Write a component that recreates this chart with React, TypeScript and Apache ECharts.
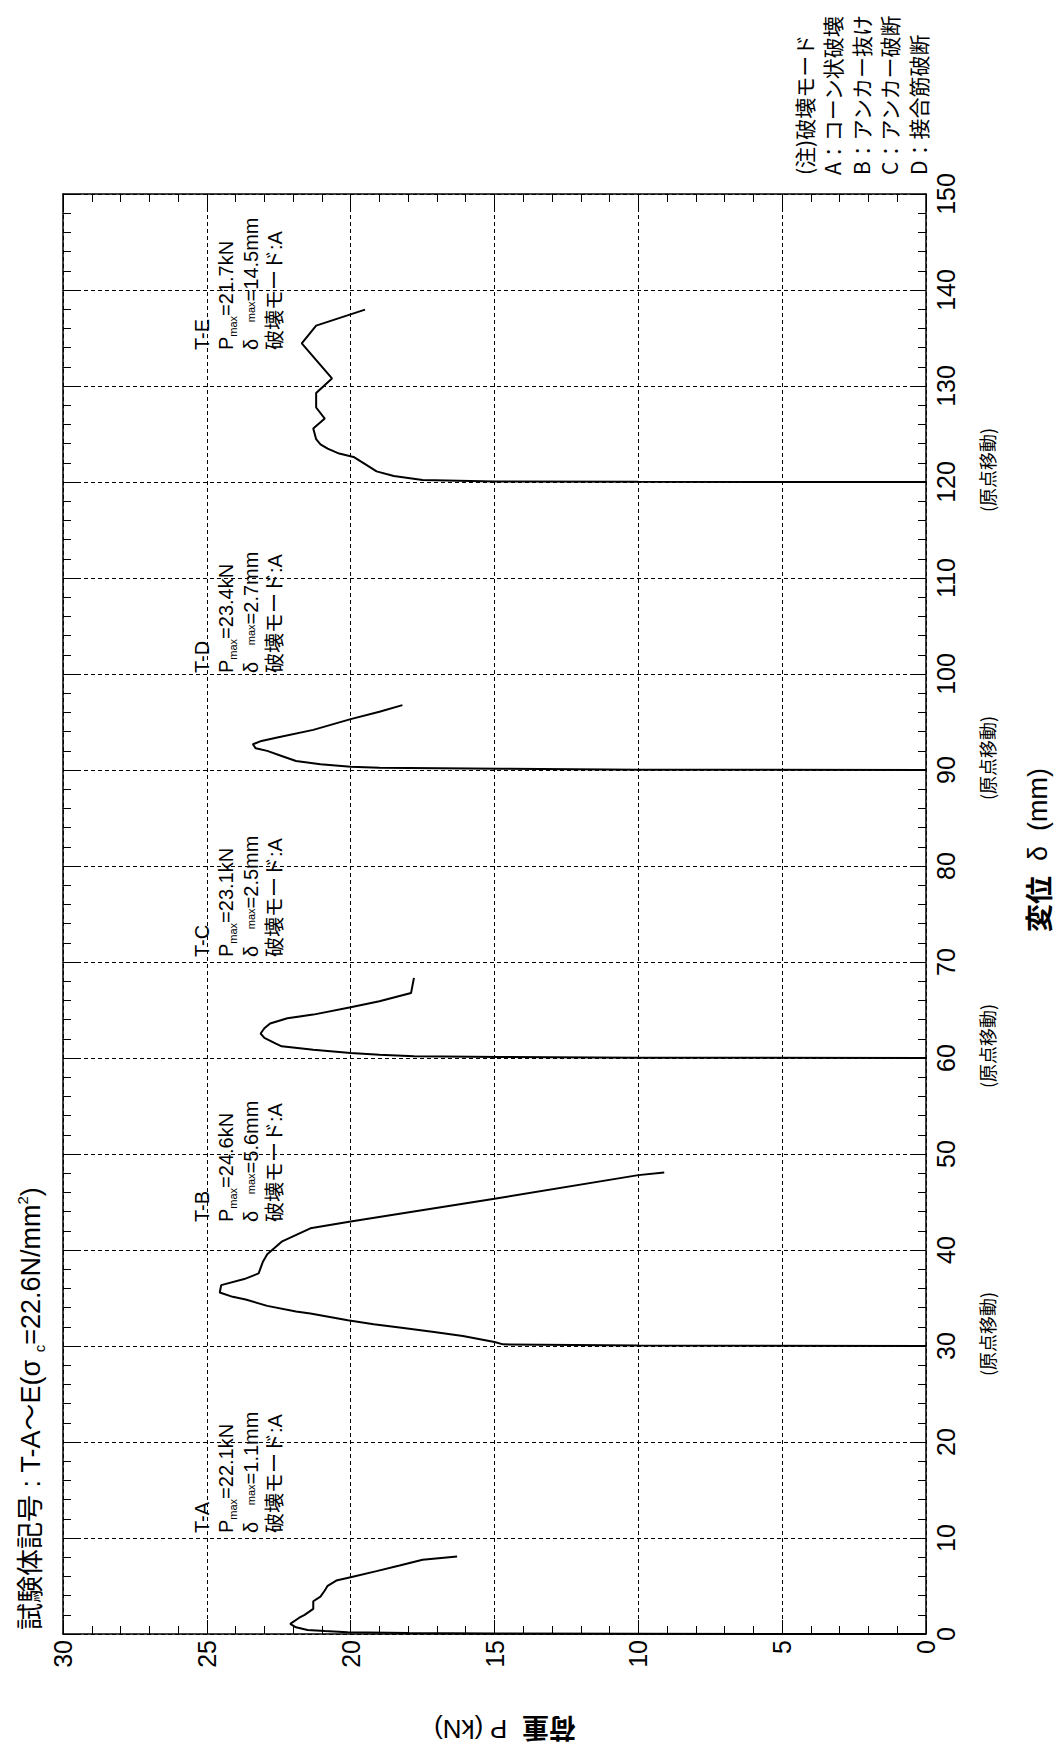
import React, { useEffect, useRef } from "react";
import * as echarts from "echarts";

// ---------------- data ----------------
const specimenNames = ["T-A", "T-B", "T-C", "T-D", "T-E"];
const originShifts = [0, 30, 60, 90, 120]; // 原点移動 (mm)
const pMaxLabels = ["22.1", "24.6", "23.1", "23.4", "21.7"];
const dMaxLabels = ["1.1", "5.6", "2.5", "2.7", "14.5"];
const failureModes = ["A", "A", "A", "A", "A"];

// load P (kN) and displacement δ (mm, relative to each specimen's origin)
const loadTA = [0, 10, 15, 18, 20.1, 20.9, 21.5, 21.9, 22.1, 21.8, 21.6, 21.3, 21.3, 21.05, 20.9, 20.8, 20.5, 20.0, 19.1, 18.3, 17.5, 16.3];
const dispTA = [0, 0.02, 0.05, 0.1, 0.17, 0.31, 0.42, 0.7, 1.05, 1.67, 1.99, 2.61, 3.41, 3.9, 4.53, 5.02, 5.57, 5.92, 6.55, 7.14, 7.74, 8.08];

const loadTB = [0, 10, 14.7, 15.0, 16.1, 17.1, 18.3, 19.2, 20.1, 21.4, 21.9, 22.9, 23.65, 24.1, 24.55, 24.5, 23.7, 23.2, 23.05, 22.9, 22.4, 21.4, 20.0, 15.0, 10.0, 9.1];
const dispTB = [0, 0.05, 0.17, 0.42, 1.05, 1.46, 1.92, 2.26, 2.68, 3.38, 3.59, 4.18, 4.84, 5.12, 5.57, 6.34, 6.97, 7.56, 8.78, 9.55, 10.87, 12.26, 12.96, 15.33, 17.8, 18.08];

const loadTC = [0, 10, 14.8, 17.8, 19.0, 20.0, 21.3, 22.4, 22.6, 23.0, 23.13, 23.0, 22.8, 22.2, 21.3, 20.0, 19.0, 17.9, 17.8];
const dispTC = [0, 0.03, 0.1, 0.17, 0.35, 0.52, 0.87, 1.22, 1.5, 2.1, 2.55, 3.1, 3.6, 4.14, 4.52, 5.29, 5.91, 6.78, 8.35];

const loadTD = [0, 10, 14.8, 19.0, 20.0, 21.05, 21.9, 22.4, 22.9, 23.3, 23.4, 23.1, 22.55, 21.3, 20.0, 19.0, 18.2];
const dispTD = [0, 0.03, 0.14, 0.24, 0.35, 0.59, 0.94, 1.46, 1.99, 2.26, 2.68, 3.03, 3.38, 4.18, 5.3, 6.06, 6.76];

const loadTE = [0, 10, 15, 17.5, 18.5, 19.1, 19.4, 19.9, 20.4, 20.8, 21.05, 21.2, 21.3, 20.9, 21.2, 21.2, 20.65, 21.7, 21.2, 19.5];
const dispTE = [0, 0.02, 0.06, 0.21, 0.63, 1.11, 1.67, 2.61, 2.96, 3.48, 3.93, 4.46, 5.57, 6.61, 7.76, 9.26, 10.79, 14.44, 16.29, 17.96];

const loads = [loadTA, loadTB, loadTC, loadTD, loadTE];
const disps = [dispTA, dispTB, dispTC, dispTD, dispTE];

const loadAxis = { min: 0, max: 30, interval: 5 };
const dispAxis = { min: 0, max: 150, interval: 10 };

const legendLines = ["(注)破壊モード", "A：コーン状破壊", "B：アンカー抜け", "C：アンカー破断", "D：接合筋破断"];
const originShiftText = "(原点移動)";
const loadAxisName = "荷重";
const loadAxisUnit = "  P (kN)";
const dispAxisName = "変位";
const dispAxisUnit = "  δ  (mm)";

// ---------------- layout ----------------
const W = 1063;
const H = 1750;
const GRID = { left: 63, right: 137, top: 194, bottom: 116 };
const FONT = "'Liberation Sans', Arial, 'Noto Sans CJK JP', sans-serif";
const CJK_FONT = "'Noto Sans CJK JP', 'Liberation Sans', sans-serif";
const ANNOT_COLS = [202, 226, 251, 275];
const ANNOT_START_Y = [1533, 1222, 957, 673, 350];
const LEGEND_COLS = [804, 832, 861, 889, 918];
const LEGEND_START_Y = 175;
const ORIGIN_LABEL_X = 987;
const ORIGIN_LABEL_SHIFT = -12;
const TITLE_X = 31;
const TITLE_START_Y = 1630;

function txt(x: number, y: number, text: string, fontSize: number, extra: any = {}) {
  const align = extra.align ?? "left";
  return {
    type: "text",
    x,
    y,
    rotation: extra.rotation ?? Math.PI / 2,
    silent: true,
    z: 10,
    style: {
      text,
      fill: "#000",
      fontSize,
      fontFamily: extra.fontFamily ?? FONT,
      fontWeight: extra.fontWeight ?? "normal",
      align,
      textAlign: align,
      verticalAlign: "middle",
      textVerticalAlign: "middle",
      lineHeight: extra.lineHeight,
      rich: extra.rich,
    },
  };
}

export default function App() {
  const ref = useRef<HTMLDivElement>(null);

  useEffect(() => {
    const el = ref.current;
    if (!el) return;
    const chart = echarts.init(el, null, { renderer: "svg" });

    const axisLine = { show: true, onZero: false, lineStyle: { color: "#000", width: 1.5 } };
    const tick = { show: true, inside: true, length: 14, lineStyle: { color: "#000", width: 1 } };
    const minorTick = (n: number) => ({ show: true, splitNumber: n, length: 8, lineStyle: { color: "#000", width: 1 } });
    const split = { show: true, lineStyle: { color: "#000", width: 1, type: [4, 3] } };
    const label = { color: "#000", fontSize: 25, fontFamily: FONT, rotate: 90 };

    const series = specimenNames.map((name, i) => ({
      name,
      type: "line",
      xAxisIndex: 0,
      yAxisIndex: 0,
      data: loads[i].map((p, k) => [p, disps[i][k] + originShifts[i]]),
      showSymbol: false,
      symbol: "none",
      lineStyle: { color: "#000", width: 2 },
      itemStyle: { color: "#000" },
      silent: true,
      z: 5,
    }));

    chart.setOption({
      animation: false,
      backgroundColor: "#fff",
      grid: { ...GRID, containLabel: false, outerBoundsMode: "none" },
      xAxis: [
        {
          type: "value", ...loadAxis, inverse: true, position: "bottom",
          axisLine, axisTick: tick, minorTick: minorTick(5),
          axisLabel: { ...label, margin: 6 },
          splitLine: split, minorSplitLine: { show: false },
        },
        {
          type: "value", ...loadAxis, inverse: true, position: "top",
          axisLine, axisTick: tick, minorTick: minorTick(5),
          axisLabel: { show: false }, splitLine: { show: false },
        },
      ],
      yAxis: [
        {
          type: "value", ...dispAxis, position: "right",
          axisLine, axisTick: tick, minorTick: minorTick(5),
          axisLabel: { ...label, margin: 7 },
          splitLine: split, minorSplitLine: { show: false },
        },
        {
          type: "value", ...dispAxis, position: "left",
          axisLine, axisTick: tick, minorTick: minorTick(5),
          axisLabel: { show: false }, splitLine: { show: false },
        },
      ],
      series,
    });

    const toY = (d: number) => chart.convertToPixel({ yAxisIndex: 0 }, d) as number;

    const elements: any[] = [];

    // title
    elements.push(
      txt(TITLE_X, TITLE_START_Y, "試験体記号 : T-A～E(σ {sub|c}=22.6N/mm{sup|2})", 27, {
        lineHeight: 32,
        rich: {
          sub: { fontSize: 15, lineHeight: 15, verticalAlign: "bottom", fontFamily: FONT, fill: "#000" },
          sup: { fontSize: 15, lineHeight: 15, verticalAlign: "top", fontFamily: FONT, fill: "#000" },
        },
      })
    );

    // legend
    legendLines.forEach((line, i) => {
      elements.push(txt(LEGEND_COLS[i], LEGEND_START_Y, line, 21, { fontFamily: CJK_FONT }));
    });

    // specimen annotations
    specimenNames.forEach((name, i) => {
      const y = ANNOT_START_Y[i];
      elements.push(txt(ANNOT_COLS[0], y, name, 20));
      elements.push(
        txt(ANNOT_COLS[1], y, `P{s|max}=${pMaxLabels[i]}kN`, 20, {
          lineHeight: 24,
          rich: { s: { fontSize: 11, lineHeight: 11, verticalAlign: "bottom", fontFamily: FONT, fill: "#000" } },
        })
      );
      elements.push(
        txt(ANNOT_COLS[2], y, `δ   {t|max}=${dMaxLabels[i]}mm`, 20, {
          lineHeight: 24,
          rich: { t: { fontSize: 11, lineHeight: 11, verticalAlign: "middle", fontFamily: FONT, fill: "#000" } },
        })
      );
      elements.push(txt(ANNOT_COLS[3], y, `破壊モード:${failureModes[i]}`, 20));
    });

    // origin shift labels
    originShifts.forEach((s) => {
      if (s === 0) return;
      elements.push(
        txt(ORIGIN_LABEL_X, toY(s) + ORIGIN_LABEL_SHIFT, originShiftText, 18, {
          align: "center",
          fontFamily: CJK_FONT,
        })
      );
    });

    // axis names
    elements.push(
      txt(1038, 850, `{b|${dispAxisName}}${dispAxisUnit}`, 27, {
        align: "center",
        rich: { b: { fontSize: 28, fontWeight: "bold", fontFamily: CJK_FONT, fill: "#000" } },
      })
    );
    elements.push(
      txt(505, 1729, `{b|${loadAxisName}}${loadAxisUnit}`, 26, {
        align: "center",
        rotation: Math.PI,
        rich: { b: { fontSize: 27, fontWeight: "bold", fontFamily: CJK_FONT, fill: "#000" } },
      })
    );

    chart.setOption({ graphic: { elements } });

    return () => {
      chart.dispose();
    };
  }, []);

  return <div ref={ref} style={{ position: "absolute", left: 0, top: 0, width: W, height: H, background: "#fff" }} />;
}
